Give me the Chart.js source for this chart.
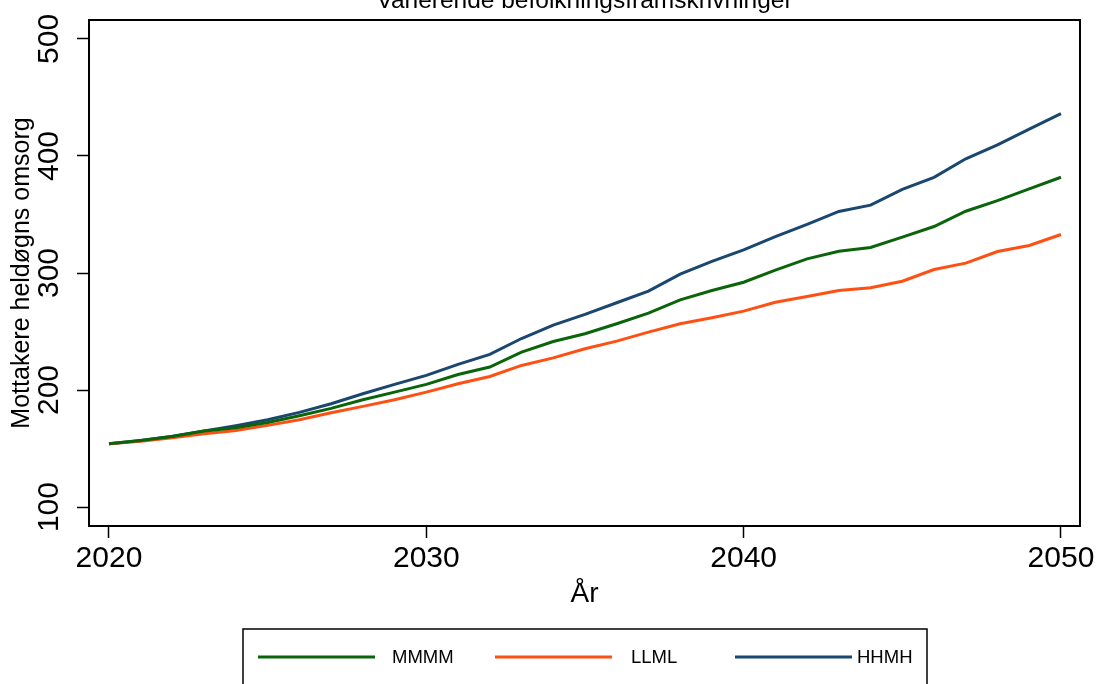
<!DOCTYPE html>
<html>
<head>
<meta charset="utf-8">
<script src="https://cdn.jsdelivr.net/npm/chart.js@4/dist/chart.umd.min.js"></script>
<style>
  html, body { margin: 0; padding: 0; background: #fff; }
  #chart { display: block; }
</style>
</head>
<body>
<canvas id="chart" width="1099" height="684"></canvas>
<script>
const years = [2020, 2021, 2022, 2023, 2024, 2025, 2026, 2027, 2028, 2029,
  2030, 2031, 2032, 2033, 2034, 2035, 2036, 2037, 2038, 2039,
  2040, 2041, 2042, 2043, 2044, 2045, 2046, 2047, 2048, 2049, 2050];

const mmmm = [154.0, 156.8, 160.2, 165.0, 167.8, 172.3, 178.0, 184.3, 191.7, 198.2,
  204.8, 213.3, 219.6, 232.4, 241.5, 248.1, 256.6, 265.7, 277.1, 285.0,
  292.1, 302.5, 312.1, 318.6, 321.8, 330.6, 339.7, 352.8, 361.9, 371.9, 381.8];

const llml = [154.0, 156.3, 159.3, 162.7, 165.5, 169.8, 174.6, 180.5, 186.0, 191.7,
  198.2, 205.3, 211.6, 221.0, 227.5, 235.3, 241.8, 249.5, 256.6, 261.7,
  267.4, 275.0, 279.9, 285.0, 287.4, 293.0, 303.0, 308.4, 318.4, 323.5, 332.9];

const hhmh = [154.0, 156.9, 160.6, 165.0, 169.5, 174.6, 180.9, 188.3, 196.8, 204.8,
  212.5, 221.9, 230.5, 244.0, 255.5, 264.6, 274.6, 284.5, 299.0, 310.0,
  319.8, 331.0, 341.5, 352.6, 358.0, 371.5, 381.7, 397.6, 409.5, 423.0, 436.2];

const seriesNames = ["MMMM", "LLML", "HHMH"];
const xTicks = [2020, 2030, 2040, 2050];
const yTicks = [100, 200, 300, 400, 500];

const chartTitle = "Varierende befolkningsframskrivninger";
const xTitle = "År";
const yTitle = "Mottakere heldøgns omsorg";

const FONT = "'Liberation Sans', Arial, Helvetica, sans-serif";

function toPoints(vals) {
  return vals.map((v, i) => ({ x: years[i], y: v }));
}

// frame, titles and the boxed legend (Stata style)
const decorations = {
  id: "decorations",
  afterDraw(chart) {
    const ctx = chart.ctx;
    const a = chart.chartArea;
    ctx.save();
    ctx.strokeStyle = "#000";
    ctx.lineWidth = 2;
    ctx.strokeRect(a.left, a.top, a.right - a.left, a.bottom - a.top);

    ctx.fillStyle = "#000";
    ctx.textAlign = "center";
    ctx.textBaseline = "alphabetic";
    ctx.font = "24.5px " + FONT;
    ctx.fillText(chartTitle, (a.left + a.right) / 2, 8);

    ctx.font = "28px " + FONT;
    ctx.fillText(xTitle, (a.left + a.right) / 2, 602);

    ctx.save();
    ctx.translate(22, (a.top + a.bottom) / 2);
    ctx.rotate(-Math.PI / 2);
    ctx.textBaseline = "middle";
    ctx.font = "25px " + FONT;
    ctx.fillText(yTitle, 0, 0);
    ctx.restore();

    // legend
    ctx.lineWidth = 1.5;
    ctx.strokeRect(243, 629, 684, 80);
    const lineX = [258, 495, 735];
    const textX = [392, 631, 857];
    ctx.font = "18.5px " + FONT;
    ctx.textAlign = "left";
    ctx.textBaseline = "middle";
    chart.data.datasets.forEach((ds, i) => {
      ctx.strokeStyle = ds.borderColor;
      ctx.lineWidth = 3;
      ctx.beginPath();
      ctx.moveTo(lineX[i], 657);
      ctx.lineTo(lineX[i] + 117, 657);
      ctx.stroke();
      ctx.fillStyle = "#000";
      ctx.fillText(ds.label, textX[i], 658);
    });
    ctx.restore();
  }
};

const ctx = document.getElementById("chart").getContext("2d");
new Chart(ctx, {
  type: "line",
  data: {
    datasets: [
      { label: seriesNames[0], data: toPoints(mmmm), borderColor: "#0a640a" },
      { label: seriesNames[1], data: toPoints(llml), borderColor: "#ff5014" },
      { label: seriesNames[2], data: toPoints(hhmh), borderColor: "#1a476f" }
    ]
  },
  options: {
    responsive: false,
    animation: false,
    devicePixelRatio: 1,
    layout: { padding: { top: 19, right: 19, bottom: 0, left: 0 } },
    elements: {
      line: { borderWidth: 3, tension: 0, fill: false },
      point: { radius: 0 }
    },
    plugins: {
      legend: { display: false },
      title: { display: false },
      tooltip: { enabled: false }
    },
    scales: {
      x: {
        type: "linear",
        min: 2019.37,
        max: 2050.6,
        afterBuildTicks: (s) => { s.ticks = xTicks.map((v) => ({ value: v })); },
        afterFit: (s) => { s.height = 158; },
        border: { display: true, color: "#000", width: 2 },
        grid: { drawOnChartArea: false, drawTicks: true, tickLength: 12, tickColor: "#000", tickWidth: 1.5 },
        ticks: {
          color: "#000",
          font: { family: FONT, size: 30 },
          padding: 3,
          maxRotation: 0,
          minRotation: 0,
          callback: (v) => String(v)
        }
      },
      y: {
        type: "linear",
        min: 83.8,
        max: 516.2,
        afterBuildTicks: (s) => { s.ticks = yTicks.map((v) => ({ value: v })); },
        afterFit: (s) => { s.width = 89; },
        border: { display: true, color: "#000", width: 2 },
        grid: { drawOnChartArea: false, drawTicks: true, tickLength: 12, tickColor: "#000", tickWidth: 1.5 },
        ticks: {
          color: "#000",
          font: { family: FONT, size: 30 },
          padding: 2,
          crossAlign: "center",
          minRotation: 90,
          maxRotation: 90,
          callback: (v) => String(v)
        }
      }
    }
  },
  plugins: [decorations]
});
</script>
</body>
</html>
